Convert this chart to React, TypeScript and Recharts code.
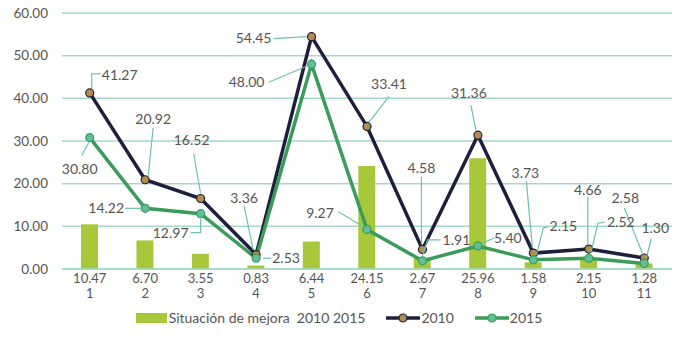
import React from 'react';
import { ComposedChart, Bar, Line, XAxis, YAxis, CartesianGrid, LabelList } from 'recharts';

const categories = ['1', '2', '3', '4', '5', '6', '7', '8', '9', '10', '11'];
const mejora = [10.47, 6.70, 3.55, 0.83, 6.44, 24.15, 2.67, 25.96, 1.58, 2.15, 1.28];
const values2010 = [41.27, 20.92, 16.52, 3.36, 54.45, 33.41, 4.58, 31.36, 3.73, 4.66, 2.58];
const values2015 = [30.80, 14.22, 12.97, 2.53, 48.00, 9.27, 1.91, 5.40, 2.15, 2.52, 1.30];
const yTicks = [0, 10, 20, 30, 40, 50, 60];

const data = categories.map((c, i) => ({ cat: c, mejora: mejora[i], y2010: values2010[i], y2015: values2015[i] }));

// label placement: text offset from point and leader polyline (relative to point)
type LabelLayout = { dx: number; dy: number; leader: number[][] };
const LAYOUT_2010: LabelLayout[] = [
  { dx: 30, dy: -18, leader: [[2, -5], [2, -19], [11, -19]] },
  { dx: 8, dy: -61, leader: [[8, -52], [3, -4]] },
  { dx: -9, dy: -58, leader: [[-7, -45], [0, -5]] },
  { dx: -12, dy: -57, leader: [[-12, -49], [-3, -5]] },
  { dx: -58, dy: 1, leader: [[-38, 2], [-5, 0]] },
  { dx: 22, dy: -42, leader: [[22, -30], [2, -4]] },
  { dx: -1, dy: -81, leader: [[-1, -73], [-1, -5]] },
  { dx: -9, dy: -42, leader: [[-7, -30], [-2, -5]] },
  { dx: -8, dy: -80, leader: [[-7, -72], [-1, -5]] },
  { dx: -1, dy: -59, leader: [[-1, -52], [-1, -5]] },
  { dx: -19, dy: -60, leader: [[-20, -50], [-2, -5]] },
];
const LAYOUT_2015: LabelLayout[] = [
  { dx: -10, dy: 32, leader: [[-1, 5], [-8, 18]] },
  { dx: -39, dy: 0, leader: [[-20, 0], [-5, 0]] },
  { dx: -30, dy: 19, leader: [[0, 5], [0, 19], [-10, 19]] },
  { dx: 30, dy: 0, leader: [[7, 0], [15, 0]] },
  { dx: -65, dy: 18, leader: [[-43, 18], [-5, 2]] },
  { dx: -47, dy: -16, leader: [[-29, -18], [-4, -3]] },
  { dx: 34, dy: -21, leader: [[0, -5], [5, -21], [18, -21]] },
  { dx: 30, dy: -8, leader: [[5, -3], [16, -8]] },
  { dx: 30, dy: -34, leader: [[3, -5], [10, -32], [15, -33]] },
  { dx: 32, dy: -36, leader: [[2, -5], [9, -35], [16, -36]] },
  { dx: 11, dy: -35, leader: [[2, -5], [7, -25]] },
];

const FONT = 'Lato, "Open Sans", sans-serif';
const TEXT = '#555555';
const GRID = '#a6d8cb';
const LEADER = '#6cc2ae';
const BAR = '#a8c83c';
const C2010 = '#1f1f3d';
const D2010 = '#b48d4c';
const C2015 = '#3b9b5b';
const D2015 = '#5fbf98';

const makeLabel = (layout: LabelLayout[]) => (props: any) => {
  const { x, y, value, index } = props;
  const l = layout[index];
  if (!l || x == null || y == null) return null;
  const pts = l.leader.map((p) => `${x + p[0]},${y + p[1]}`).join(' ');
  return (
    <g>
      <polyline points={pts} fill="none" stroke={LEADER} strokeWidth={1.2} />
      <text x={x + l.dx} y={y + l.dy} dy="0.35em" textAnchor="middle" fontFamily={FONT} fontSize={14} fill={TEXT}>
        {Number(value).toFixed(2)}
      </text>
    </g>
  );
};

const XTick = (props: any) => {
  const { x, y, payload } = props;
  const i = payload.index;
  return (
    <g>
      <text x={x} y={y + 14} textAnchor="middle" fontFamily={FONT} fontSize={13} fill={TEXT}>
        {mejora[i].toFixed(2)}
      </text>
      <text x={x} y={y + 29} textAnchor="middle" fontFamily={FONT} fontSize={13} fill={TEXT}>
        {payload.value}
      </text>
    </g>
  );
};

const LineSym = ({ color, dot }: { color: string; dot: string }) => (
  <svg width={36} height={12} style={{ display: 'block' }}>
    <line x1={1} y1={6} x2={35} y2={6} stroke={color} strokeWidth={3.5} />
    <circle cx={18} cy={6} r={4} fill={dot} stroke={color} strokeWidth={1.2} />
  </svg>
);

export default function App() {
  return (
    <div style={{ position: 'absolute', left: 0, top: 0, width: 678, height: 340, background: '#fff' }}>
      <ComposedChart width={678} height={340} data={data} margin={{ top: 13, right: 6, left: 0, bottom: 31 }}>
        <CartesianGrid vertical={false} stroke={GRID} strokeWidth={1.5} />
        <XAxis
          dataKey="cat"
          axisLine={{ stroke: GRID, strokeWidth: 1.5 }}
          tickLine={false}
          tickSize={0}
          tickMargin={0}
          height={40}
          interval={0}
          tick={<XTick />}
        />
        <YAxis
          domain={[0, 60]}
          ticks={yTicks}
          width={62}
          axisLine={false}
          tickLine={false}
          tickSize={0}
          tickMargin={14}
          tick={{ fontFamily: FONT, fontSize: 13.5, fill: TEXT }}
          tickFormatter={(v: number) => v.toFixed(2)}
        />
        <Bar dataKey="mejora" fill={BAR} barSize={17} isAnimationActive={false} />
        <Line
          dataKey="y2010"
          stroke={C2010}
          strokeWidth={3.5}
          dot={{ r: 4, fill: D2010, stroke: C2010, strokeWidth: 1.2 }}
          isAnimationActive={false}
        >
          <LabelList dataKey="y2010" content={makeLabel(LAYOUT_2010)} />
        </Line>
        <Line
          dataKey="y2015"
          stroke={C2015}
          strokeWidth={3.5}
          dot={{ r: 4, fill: D2015, stroke: C2015, strokeWidth: 1.2 }}
          isAnimationActive={false}
        >
          <LabelList dataKey="y2015" content={makeLabel(LAYOUT_2015)} />
        </Line>
      </ComposedChart>
      <div
        style={{
          position: 'absolute',
          left: 0,
          top: 309,
          width: 678,
          display: 'flex',
          justifyContent: 'center',
          alignItems: 'center',
          fontFamily: FONT,
          fontSize: 14,
          color: TEXT,
          whiteSpace: 'pre',
        }}
      >
        <span style={{ display: 'inline-block', width: 31, height: 10, background: BAR, marginRight: 2 }} />
        <span>Situación de mejora  2010 2015</span>
        <span style={{ width: 20 }} />
        <LineSym color={C2010} dot={D2010} />
        <span>2010</span>
        <span style={{ width: 20 }} />
        <LineSym color={C2015} dot={D2015} />
        <span>2015</span>
      </div>
    </div>
  );
}
